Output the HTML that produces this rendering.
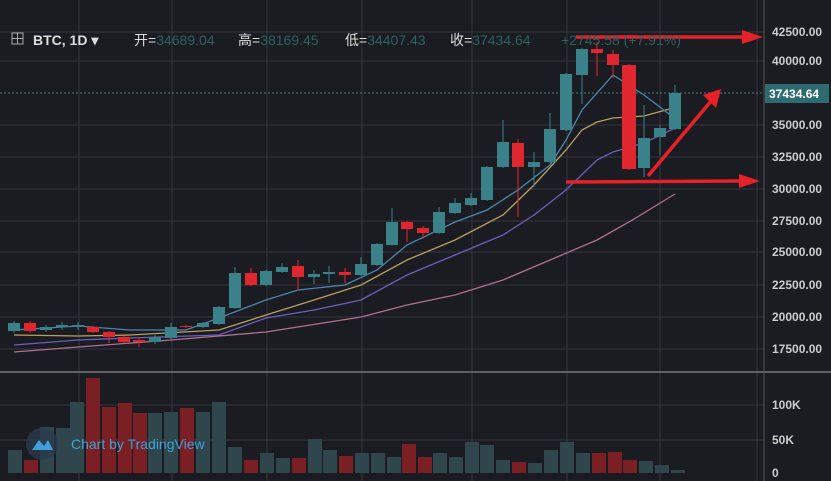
<!DOCTYPE html>
<html><head><meta charset="utf-8"><style>
body{margin:0;background:#1b1c21;}
svg{display:block;font-family:"Liberation Sans","Noto Sans CJK SC",sans-serif;}
</style></head><body>
<svg width="831" height="481" viewBox="0 0 831 481">
<rect width="831" height="481" fill="#1b1c21"/>
<g stroke="#34363f" stroke-width="1">
<line x1="79" y1="0" x2="79" y2="481"/><line x1="172" y1="0" x2="172" y2="481"/>
<line x1="267" y1="0" x2="267" y2="481"/><line x1="362" y1="0" x2="362" y2="481"/>
<line x1="472" y1="0" x2="472" y2="481"/><line x1="567" y1="0" x2="567" y2="481"/>
<line x1="660" y1="0" x2="660" y2="481"/><line x1="757" y1="0" x2="757" y2="481"/>
<line x1="0" y1="32" x2="764" y2="32"/><line x1="0" y1="61" x2="764" y2="61"/>
<line x1="0" y1="125" x2="764" y2="125"/><line x1="0" y1="157" x2="764" y2="157"/>
<line x1="0" y1="189" x2="764" y2="189"/><line x1="0" y1="221" x2="764" y2="221"/>
<line x1="0" y1="252" x2="764" y2="252"/><line x1="0" y1="285" x2="764" y2="285"/>
<line x1="0" y1="317" x2="764" y2="317"/><line x1="0" y1="349" x2="764" y2="349"/>
<line x1="0" y1="405" x2="764" y2="405"/><line x1="0" y1="440" x2="764" y2="440"/>
</g>
<line x1="0" y1="372" x2="831" y2="372" stroke="#777" stroke-width="1.5"/>
<line x1="764" y1="0" x2="764" y2="481" stroke="#555" stroke-width="1"/>
<line x1="0" y1="93" x2="764" y2="93" stroke="#3c7f85" stroke-dasharray="2,2"/>
<g id="vol"></g>
<g fill="none" stroke-width="1.3">
<polyline stroke="#b07090" points="14,352 78,347 171,340 266,332 361,317 407,305 455,295 503,280 550,260 597,240 629,222 675,194"/>
<polyline stroke="#6a5fbf" points="14,345 78,340 130,338 219,335 266,318 314,310 361,300 407,275 455,255 503,235 534,215 566,190 597,160 613,152 644,143 675,128"/>
<polyline stroke="#b8a060" points="14,335 78,336 130,335 219,330 266,315 314,300 361,285 407,260 455,240 503,215 534,185 566,150 582,130 597,122 613,118 644,116 673,108"/>
<polyline stroke="#4a86b0" points="14,330 78,326 130,330 186,330 219,318 266,300 298,290 345,285 377,270 407,245 455,222 487,210 518,190 550,165 566,140 582,110 613,75 644,95 673,117"/>
</g>
<g id="candles"></g>
<g stroke="#e8202a" stroke-width="3.5" fill="#e8202a">
<line x1="576" y1="37" x2="745" y2="37"/><polygon points="742,30 763,37 742,44" stroke="none"/>
<line x1="566" y1="182" x2="742" y2="181"/><polygon points="739,174 760,181 739,188" stroke="none"/>
<line x1="648" y1="176" x2="712" y2="100"/><polygon points="703,95 721,89 716,108" stroke="none"/>
</g>
<g font-size="14">
<rect x="12" y="33" width="11" height="11" fill="none" stroke="#aaa"/>
<line x1="17.5" y1="33" x2="17.5" y2="44" stroke="#aaa"/><line x1="12" y1="38.5" x2="23" y2="38.5" stroke="#aaa"/>
<text x="33" y="45" fill="#ddd" font-weight="bold">BTC, 1D ▾</text>
<text x="134" y="45" fill="#ddd">开=<tspan fill="#2a6262">34689.04</tspan></text>
<text x="238" y="45" fill="#ddd">高=<tspan fill="#2a6262">38169.45</tspan></text>
<text x="345" y="45" fill="#ddd">低=<tspan fill="#2a6262">34407.43</tspan></text>
<text x="450" y="45" fill="#ddd">收=<tspan fill="#2a6262">37434.64</tspan></text>
<text x="561" y="45" fill="#2a6262">+2745.58 (+7.91%)</text>
</g>
<g font-size="12" fill="#ccc" font-weight="bold">
<text x="772" y="36">42500.00</text><text x="772" y="65">40000.00</text>
<text x="772" y="129">35000.00</text><text x="772" y="161">32500.00</text>
<text x="772" y="193">30000.00</text><text x="772" y="225">27500.00</text>
<text x="772" y="256">25000.00</text><text x="772" y="289">22500.00</text>
<text x="772" y="321">20000.00</text><text x="772" y="353">17500.00</text>
<text x="772" y="409">100K</text><text x="772" y="444">50K</text><text x="772" y="477">0</text>
</g>
<rect x="765" y="84" width="64" height="19" fill="#2e6b70"/>
<text x="769" y="98" font-size="12" font-weight="bold" fill="#fff">37434.64</text>
<circle cx="42" cy="444" r="16" fill="#2a3a4c" opacity="0.8"/>
<path d="M32 450 L39 440 L44 446 L48 440 L53 450 Z" fill="#3fa0d8"/>
<text x="71" y="449" font-size="14" fill="#3fa0d8">Chart by TradingView</text>
<script>
var NS="http://www.w3.org/2000/svg";
function el(p,t,a){var e=document.createElementNS(NS,t);for(var k in a)e.setAttribute(k,a[k]);p.appendChild(e);return e;}
var vol=[[15,450,0],[31,460,1],[47,427,0],[63,428,0],[77,402,0],[93,378,1],[109,407,1],[125,403,1],[140,413,1],[155,413,0],[171,412,0],[187,408,1],[203,412,0],[219,402,0],[235,447,0],[251,460,1],[267,453,0],[283,458,0],[299,458,1],[315,439,0],[330,450,0],[346,456,1],[362,453,0],[378,453,0],[394,457,0],[409,444,1],[425,457,1],[440,453,0],[456,457,0],[472,442,0],[487,445,0],[503,460,0],[519,462,1],[535,463,0],[551,450,0],[567,442,0],[583,453,0],[599,453,1],[615,452,1],[630,460,1],[646,461,0],[662,465,0],[678,470,0]];
var vg=document.getElementById("vol");
vol.forEach(function(v){el(vg,"rect",{x:v[0]-7,y:v[1],width:14,height:473-v[1],fill:v[2]?"#7a1f24":"#2f474c"});});
var c=[[14,323,331,321,333,0],[30,323,331,321,333,1],[46,327,330,325,332,0],[62,325,327,322,330,0],[78,325,327,322,330,0],[93,327,332,326,333,1],[109,332,337,331,343,1],[124,337,342,336,343,1],[139,340,342,337,347,1],[155,337,342,335,344,0],[171,327,338,323,339,0],[186,326,327,325,328,1],[203,323,327,322,328,0],[219,307,324,306,325,0],[235,273,308,267,309,0],[251,273,285,268,286,1],[266,271,285,270,286,0],[282,267,272,263,273,0],[298,266,277,260,290,1],[314,274,277,270,284,0],[329,272,274,266,283,0],[345,272,275,268,283,1],[361,264,275,257,276,0],[377,244,265,243,266,0],[392,222,245,208,246,0],[407,222,229,221,242,1],[423,228,233,226,239,1],[439,212,233,207,234,0],[455,203,213,198,214,0],[471,198,205,193,206,0],[487,167,200,166,201,0],[503,142,167,120,168,0],[518,143,167,139,217,1],[534,162,167,152,187,0],[550,129,162,113,163,0],[566,74,130,73,131,0],[582,49,75,48,104,0],[597,49,53,42,76,1],[613,54,65,50,78,1],[629,65,169,64,170,1],[644,138,168,105,177,0],[660,128,137,125,155,0],[675,93,129,85,130,0]];
var cg=document.getElementById("candles");
c.forEach(function(d){var col=d[5]?"#e0262e":"#3a8189";
el(cg,"line",{x1:d[0],x2:d[0],y1:d[3],y2:d[4],stroke:col,"stroke-width":1});
var w=d[0]==629?14:12;
el(cg,"rect",{x:d[0]-w/2,y:d[1],width:w,height:Math.max(1,d[2]-d[1]),fill:col});});
</script>
</svg>
</body></html>
